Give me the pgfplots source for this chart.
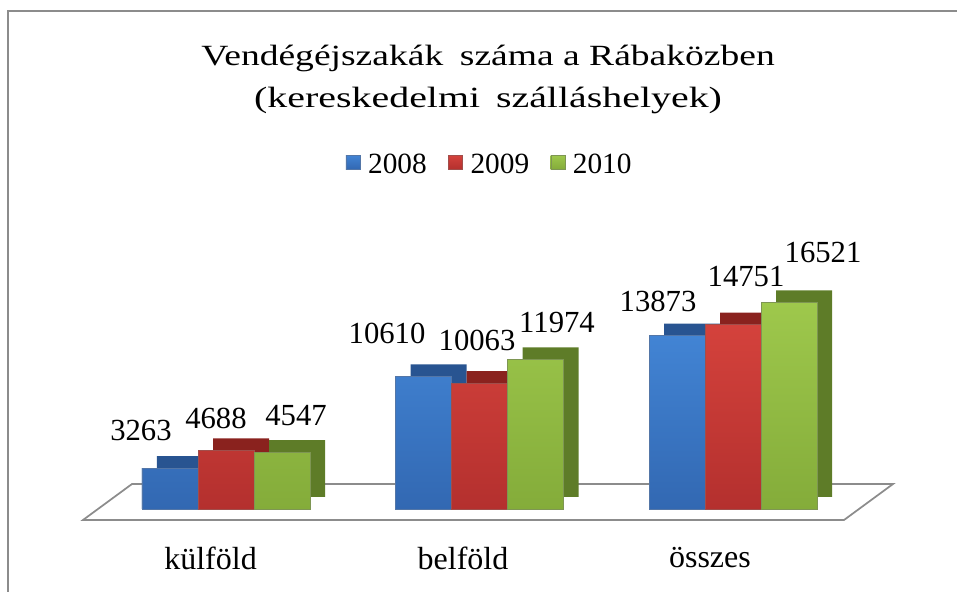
\documentclass[border=0pt]{standalone}
\usepackage{pgfplots}
\pgfplotsset{compat=1.18}
\usepackage{fontspec}
\setmainfont{Liberation Serif}
\newfontfamily\serifnum{Liberation Serif}
\newfontfamily\titlefont[FakeStretch=1.28]{Liberation Serif}
\newfontfamily\titlefontb[FakeStretch=1.36]{Liberation Serif}
\definecolor{bfront}{RGB}{58,120,200}
\definecolor{btop}{RGB}{66,132,212}
\definecolor{bbot}{RGB}{50,104,178}
\definecolor{bdark}{RGB}{40,84,145}
\definecolor{rfront}{RGB}{202,58,54}
\definecolor{rtop}{RGB}{212,66,60}
\definecolor{rbot}{RGB}{180,48,46}
\definecolor{rdark}{RGB}{138,34,30}
\definecolor{gfront}{RGB}{150,194,70}
\definecolor{gtop}{RGB}{158,200,76}
\definecolor{gbot}{RGB}{132,172,58}
\definecolor{gdark}{RGB}{94,124,40}
\definecolor{bordergray}{RGB}{140,140,140}
% dx, dy: label offset (px) from group centre / bar top
\pgfplotstableread{
x y dx dy
0 3263 -85 38
1 10610 -92.5 43
2 13873 -75 34
}\dataA
\pgfplotstableread{
x y dx dy
0 4688 -10 32
1 10063 -2.5 43
2 14751 13 48
}\dataB
\pgfplotstableread{
x y dx dy
0 4547 70 37
1 11974 77.5 37
2 16521 90 50
}\dataC
\begin{document}
\begin{tikzpicture}
\begin{axis}[
  scale only axis,
  width=717.75pt, height=444pt,
  xmin=-0.8915, xmax=2.8836,
  ymin=-6640, ymax=40720,
  axis lines=none,
  xtick=\empty, ytick=\empty,
  clip=false,
  /pgf/number format/1000 sep={},
  /pgf/number format/assume math mode=true,
  legend columns=3,
  legend style={draw=none, fill=none, at={(rel axis cs:0.512,0.721)}, anchor=center,
    font=\serifnum\fontsize{22}{26}\selectfont,
    /tikz/every odd column/.append style={column sep=4pt},
    /tikz/every even column/.append style={column sep=14pt}},
  legend image code/.code={\fill[#1] (0pt,-3pt) rectangle (10.5pt,7.5pt);},
  visualization depends on={0.75*\thisrow{dx} \as \labdx},
  visualization depends on={0.75*\thisrow{dy} \as \labdy},
  every node near coord/.append style={font=\serifnum\fontsize{23}{27}\selectfont, anchor=center,
    xshift=\labdx pt, yshift=\labdy pt, black},
]
% bounding box = full chart area
\path[use as bounding box] (rel axis cs:0,0) rectangle (rel axis cs:1,1);
% floor
\draw[bordergray, line width=1.3pt, fill=white]
  (axis cs:-0.3708,2000) -- (axis cs:2.6312,2000) -- (axis cs:2.4379,-880) -- (axis cs:-0.5641,-880) -- cycle;
% border
\draw[bordergray, line width=1.6pt] (rel axis cs:0.0084,0) |- (rel axis cs:1,0.9814);
% title
\node[font=\titlefont\fontsize{22}{26}\selectfont] at (rel axis cs:0.51,0.9020)
  {Vendégéjszakák\hspace{0.25em} száma a Rábaközben};
\node[font=\titlefontb\fontsize{22}{26}\selectfont] at (rel axis cs:0.51,0.8311)
  {(kereskedelmi\hspace{0.2em} szálláshelyek)};
% category labels
\node[font=\serifnum\fontsize{24}{28}\selectfont] at (axis cs:-0.061,-3920) {külföld};
\node[font=\serifnum\fontsize{24}{28}\selectfont] at (axis cs:0.935,-3920) {belföld};
\node[font=\serifnum\fontsize{24}{28}\selectfont] at (axis cs:1.909,-3920) {összes};
% depth (back) copies
\addplot[ybar, bar width=42pt, bar shift=-42pt, fill=bdark, draw=none, xshift=11.25pt, yshift=9pt, forget plot] table[x=x,y=y] {\dataA};
\addplot[ybar, bar width=42pt, bar shift=0pt, fill=rdark, draw=none, xshift=11.25pt, yshift=9pt, forget plot] table[x=x,y=y] {\dataB};
\addplot[ybar, bar width=42pt, bar shift=42pt, fill=gdark, draw=none, xshift=11.25pt, yshift=9pt, forget plot] table[x=x,y=y] {\dataC};
% front faces
\addplot[ybar, bar width=42pt, bar shift=-42pt, fill=bfront, top color=btop, bottom color=bbot, draw=bdark!80, line width=0.3pt,
  nodes near coords] table[x=x,y=y] {\dataA};
\addlegendentry{2008}
\addplot[ybar, bar width=42pt, bar shift=0pt, fill=rfront, top color=rtop, bottom color=rbot, draw=rdark!80, line width=0.3pt,
  nodes near coords] table[x=x,y=y] {\dataB};
\addlegendentry{2009}
\addplot[ybar, bar width=42pt, bar shift=42pt, fill=gfront, top color=gtop, bottom color=gbot, draw=gdark!80, line width=0.3pt,
  nodes near coords] table[x=x,y=y] {\dataC};
\addlegendentry{2010}
\end{axis}
\end{tikzpicture}
\end{document}
